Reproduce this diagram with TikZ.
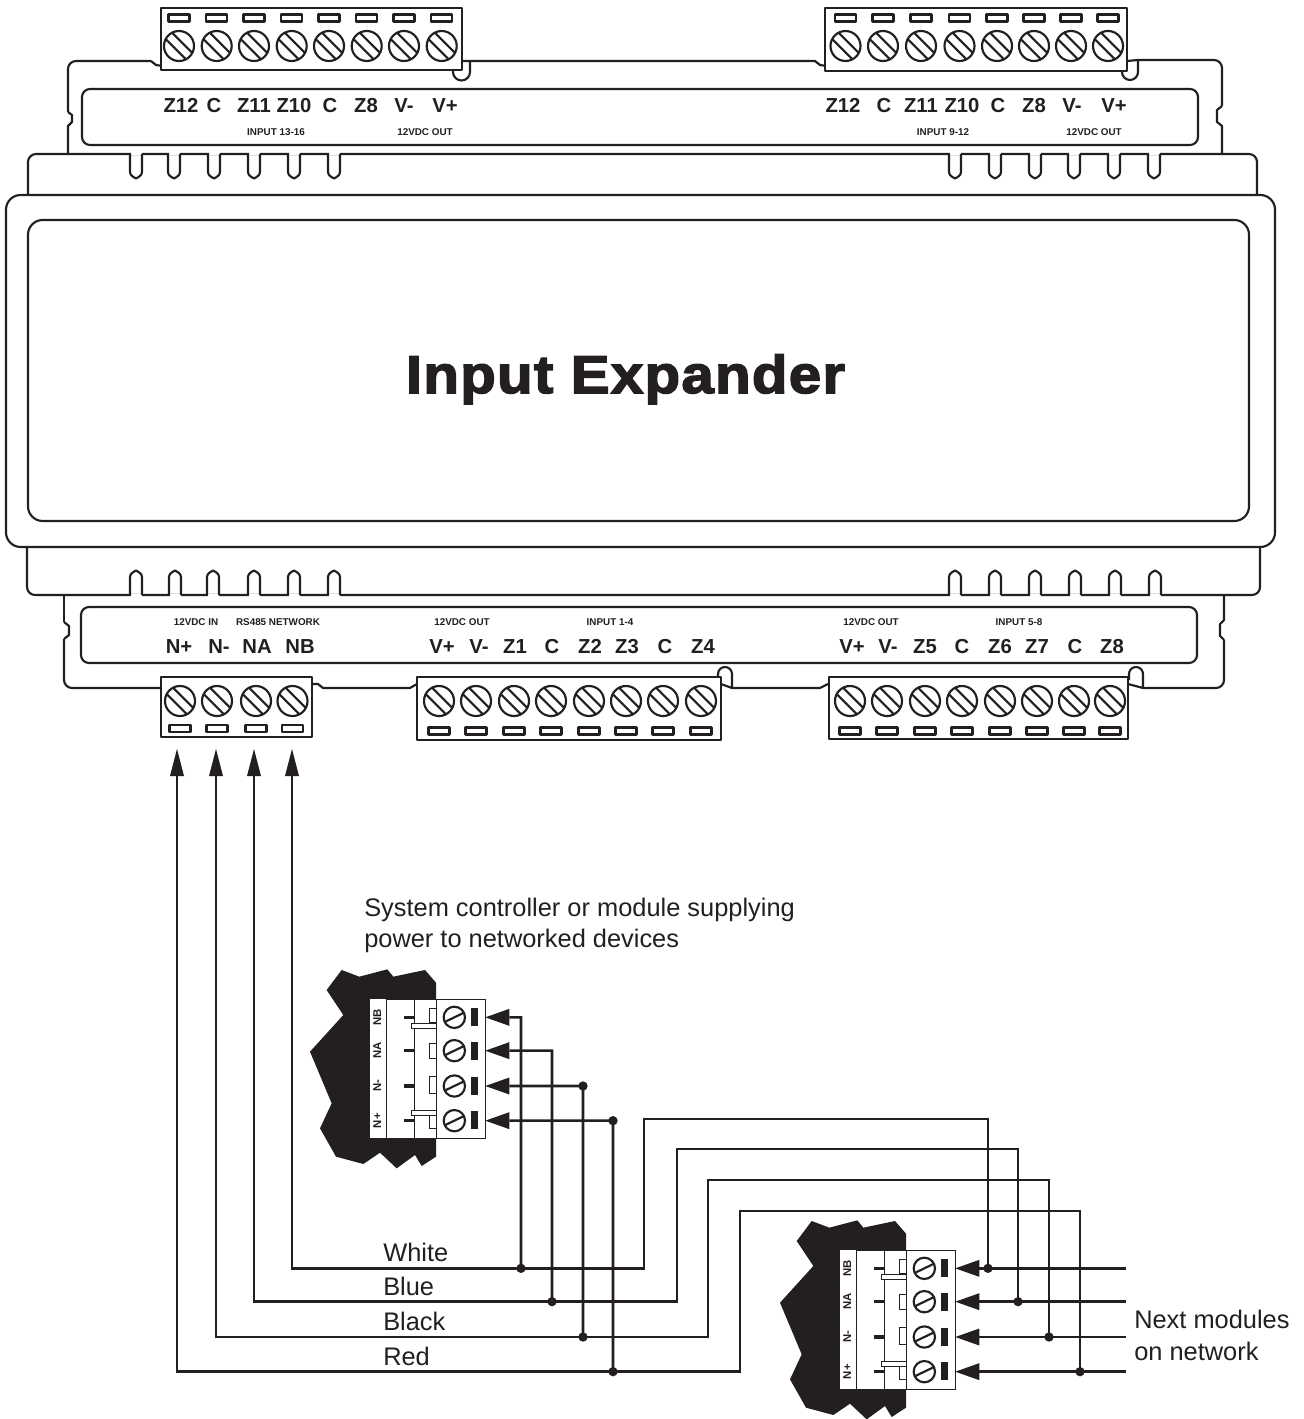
\documentclass[tikz,border=0pt]{standalone}
\usepackage{fontspec}
\setmainfont{Liberation Sans}
\newfontfamily\headfont[UprightFont=* Bold,FakeBold=2.8,FakeStretch=1.09,LetterSpace=2.5]{Liberation Sans}
\definecolor{ink}{HTML}{231F20}
\newcommand{\pxfont}[1]{\fontsize{#1}{#1}\selectfont}
\tikzset{
  outline/.style={draw=ink,line width=1.6pt,line join=round},
  thin/.style={draw=ink,line width=0.75pt},
  wire/.style={draw=ink,line width=1.9pt,line join=miter},
  termlab/.style={inner sep=0,anchor=base,text=ink,font=\bfseries\pxfont{15.2}},
  smalllab/.style={inner sep=0,anchor=base,text=ink,font=\bfseries\pxfont{7.4}},
  textlab/.style={inner sep=0,anchor=base west,text=ink,font=\pxfont{19.05}},
  pinlab/.style={inner sep=0,rotate=90,text=ink,font=\bfseries\pxfont{8.5}},
  dot/.style={circle,fill=ink,inner sep=0,minimum size=7pt},
}
% screw: centre x, y
\newcommand{\screw}[2]{%
  \draw[outline,fill=white] (#1,#2) circle[radius=15];
  \draw[outline] (#1-6.9,#2-13.3) -- (#1+13.3,#2+6.9);
  \draw[outline] (#1-13.3,#2-6.9) -- (#1+6.9,#2+13.3);
}
\newcommand{\slotbox}[2]{\draw[outline,fill=white] (#1-10.5,#2-3.5) rectangle (#1+10.5,#2+3.5);}
% fins: x, base y, tip y, direction
\newcommand{\finrow}[3]{%
  \fill[white] (#1-5.5,#2-1.5) rectangle (#1+5.5,#2+1.5);
  \draw[outline] (#1-6,#2) -- (#1-6,#3) .. controls (#1-6,{#3+(#3-#2)*0.2}) and (#1-2,{#3+(#3-#2)*0.3}) .. (#1,{#3+(#3-#2)*0.36})
     .. controls (#1+2,{#3+(#3-#2)*0.3}) and (#1+6,{#3+(#3-#2)*0.2}) .. (#1+6,#3) -- (#1+6,#2);
}
% plug connector drawn in zoom coordinates (3 units per pixel)
\newcommand{\plug}[3]{%
\begin{scope}[shift={(#2,#3)},xscale=1/3,yscale=1/3]
  \fill[ink] (125,30) -- (178,50) -- (262,28) -- (280,50) -- (375,30) -- (408,68) -- (408,590) -- (365,618) -- (345,585)
     -- (290,625) -- (240,578) -- (190,612) -- (108,590) -- (60,505) -- (95,430) -- (30,275) -- (130,165) -- (80,90) -- cycle;
  \fill[white] (210,117) rectangle (258,535);
  \draw[thin,fill=white] (258,117) rectangle (556,535);
  \draw[thin] (343,117) -- (343,535);
  \draw[thin] (408,117) -- (408,190) (408,205) -- (408,450) (408,465) -- (408,535);
  \draw[thin,fill=white] (335,190) rectangle (408,205);
  \draw[thin,fill=white] (335,450) rectangle (408,465);
  \draw[thin,fill=white] (388,145) rectangle (408,187);
  \draw[thin,fill=white] (388,250) rectangle (408,295);
  \draw[thin,fill=white] (388,350) rectangle (408,400);
  \draw[thin,fill=white] (388,465) rectangle (408,505);
  \foreach \r/\t/\p in {172/NB/145,272/NA/245,378/N-/350,482/N+/452}{
    \fill[ink] (312,\r-5) rectangle (343,\r+5);
    \draw[outline] (463,\r) circle[radius=32];
    \draw[outline] (436,\r+13) -- (490,\r-13);
    \fill[ink] (513,\p) rectangle (533,\p+54);
    \node[pinlab] (#1\t) at (232,\r) {\t};
  }
  \coordinate (#1a) at (556,172);
  \coordinate (#1b) at (556,272);
  \coordinate (#1c) at (556,378);
  \coordinate (#1d) at (556,482);
\end{scope}}
\begin{document}
\begin{tikzpicture}[x=0.75pt,y=-0.75pt]
\useasboundingbox (0,0) rectangle (1303,1419);
\fill[white] (0,0) rectangle (1303,1419);

% upper housing
\draw[outline] (68,154) -- (68,126) -- (72,122) -- (72,115) -- (68,112);
\draw[outline,rounded corners=6pt] (68,112) -- (68,61) -- (151,61);
\draw[outline] (151,61) -- (156,65) -- (162,66);
\draw[outline] (462,61) -- (815,61) -- (820,65) -- (826,66);
\draw[outline] (1127,61) -- (1138,60);
\draw[outline,rounded corners=6pt] (1138,60) -- (1222,60) -- (1222,106);
\draw[outline] (1222,106) -- (1217,110) -- (1217,122) -- (1222,126) -- (1222,154);
\draw[outline] (470,61) -- (470,72) arc[start angle=0,end angle=180,radius=8.5] -- (453,69);
\draw[outline] (1138,60) -- (1138,72) arc[start angle=0,end angle=180,radius=8] -- (1122,69);
\draw[outline,rounded corners=6pt] (82,145) rectangle (1198,89);
\draw[outline,rounded corners=6pt] (28,195) -- (28,154) -- (1257,154) -- (1257,195);
\foreach \x in {136,174,214,254,294,334,955,995,1035,1074,1114,1154}{\finrow{\x}{154}{172}}

% lower housing
\draw[outline,rounded corners=6pt] (64,595) -- (64,622);
\draw[outline] (64,622) -- (69,626) -- (69,635) -- (64,639);
\draw[outline,rounded corners=6pt] (64,639) -- (64,688) -- (161,688);
\draw[outline] (312,684) -- (318,684) -- (323,688) -- (410,688) -- (417,684);
\draw[outline] (732,688) -- (820,688) -- (828,684);
\draw[outline,rounded corners=6pt] (1143,688) -- (1224,688) -- (1224,640);
\draw[outline] (1224,640) -- (1220,636) -- (1220,624) -- (1224,620) -- (1224,595);
\draw[outline] (718,680) -- (718,674) arc[start angle=180,end angle=360,radius=7] -- (732,688) -- (721,684);
\draw[outline] (1129,680) -- (1129,674) arc[start angle=180,end angle=360,radius=7] -- (1143,688) -- (1128,684);
\draw[outline,rounded corners=6pt] (81,663) rectangle (1197,607);
\draw[outline,rounded corners=6pt] (27,547) -- (27,595) -- (1260,595) -- (1260,547);
\foreach \x in {136,175,213,254,294,334,955,995,1035,1075,1115,1155}{\finrow{\x}{595}{577}}

% main body
\draw[outline,fill=white,rounded corners=11pt] (6,195) rectangle (1275,547);
\draw[outline,rounded corners=11pt] (28,220) rectangle (1249,521);
\node[inner sep=0,anchor=base,text=ink,font=\headfont\pxfont{40}] (title) at (625.5,393) {Input Expander};

% terminal blocks
\draw[outline,fill=white] (161,8) rectangle (462,70);
\draw[outline,fill=white] (825,8) rectangle (1127,71);
\draw[outline,fill=white] (161,677) rectangle (312,737);
\draw[outline,fill=white] (417,677) rectangle (721,740);
\draw[outline,fill=white] (829,677) rectangle (1128,739);
\foreach \x in {179,216.7,254,291.7,329,366.7,404,441.7}{\screw{\x}{46}\slotbox{\x}{18}}
\foreach \x in {845.5,883,921,959.5,997,1034,1071,1108}{\screw{\x}{46}\slotbox{\x}{18}}
\foreach \x in {180,217,256,292.5}{\screw{\x}{701}\slotbox{\x}{728.5}}
\foreach \x in {439,476,514,551,589,626,663,701}{\screw{\x}{701}\slotbox{\x}{731}}
\foreach \x in {850,887,925,962,1000,1037,1074,1110}{\screw{\x}{701}\slotbox{\x}{731}}

% terminal labels
\foreach \i/\x/\t in {1/181/Z12,2/214/C,3/254/Z11,4/294/Z10,5/330/C,6/366/Z8,7/404/V-,8/445/V+,
  9/843/Z12,10/884/C,11/921/Z11,12/962/Z10,13/998/C,14/1034/Z8,15/1072/V-,16/1114/V+}{
  \node[termlab] (top\i) at (\x,112.5) {\t};}
\foreach \i/\x/\t in {1/179/N+,2/219/N-,3/257/NA,4/300/NB,5/442/V+,6/479/V-,7/515/Z1,8/552/C,9/590/Z2,10/627/Z3,11/665/C,12/703/Z4,
  13/852/V+,14/888/V-,15/925/Z5,16/962/C,17/1000/Z6,18/1037/Z7,19/1075/C,20/1112/Z8}{
  \node[termlab] (bot\i) at (\x,653) {\t};}
\foreach \i/\x/\t in {1/276/INPUT 13-16,2/425/12VDC OUT,3/943/INPUT 9-12,4/1094/12VDC OUT}{
  \node[smalllab] (stop\i) at (\x,136) {\t};}
\foreach \i/\x/\t in {1/196/12VDC IN,2/278/RS485 NETWORK,3/462/12VDC OUT,4/610/INPUT 1-4,5/871/12VDC OUT,6/1019/INPUT 5-8}{
  \node[smalllab] (sbot\i) at (\x,625) {\t};}

% plugs
\plug{p}{300}{960}
\plug{q}{770}{1211}

% text
\node[textlab] (ctrlA) at (364,916) {System controller or module supplying};
\node[textlab] (ctrlB) at (364,947) {power to networked devices};
\node[textlab] (white) at (383,1261) {White};
\node[textlab] (blue) at (383,1295) {Blue};
\node[textlab] (black) at (383,1330) {Black};
\node[textlab] (red) at (383,1365) {Red};
\node[textlab] (nextA) at (1134,1328) {Next modules};
\node[textlab] (nextB) at (1134,1360) {on network};

% named wire points
\foreach \n/\x in {ua/292,ub/254,uc/216,ud/177}{\coordinate (\n) at (\x,749);}
\coordinate (ea) at ([xshift=128pt]qa);
\coordinate (eb) at ([xshift=128pt]qb);
\coordinate (ec) at ([xshift=128pt]qc);
\coordinate (ed) at ([xshift=128pt]qd);
\node[dot] (j1) at (521,1268.33) {};
\node[dot] (j2) at (552,1301.67) {};
\node[dot] (j3) at (583,1337) {};
\node[dot] (j4) at (613,1371.67) {};
\node[dot] (j5) at (583,1086) {};
\node[dot] (j6) at (613,1120.67) {};
\node[dot] (k1) at (988,1268.33) {};
\node[dot] (k2) at (1018,1301.67) {};
\node[dot] (k3) at (1049,1337) {};
\node[dot] (k4) at (1080,1371.67) {};

% wires to the expander
\draw[wire] (ua) ++(0,20) |- (j1.center) -- (644,1268.33) -- (644,1119) -- (988,1119) -- (k1.center);
\draw[wire] (ub) ++(0,20) |- (j2.center) -- (677,1301.67) -- (677,1149) -- (1018,1149) -- (k2.center);
\draw[wire] (uc) ++(0,20) |- (j3.center) -- (708,1337) -- (708,1180) -- (1049,1180) -- (k3.center);
\draw[wire] (ud) ++(0,20) |- (j4.center) -- (740,1371.67) -- (740,1211) -- (1080,1211) -- (k4.center);
% branches to the controller
\draw[wire] (j1.center) -- (521,1017.33) -- ([xshift=18pt]pa);
\draw[wire] (j2.center) -- (552,1050.67) -- ([xshift=18pt]pb);
\draw[wire] (j3.center) -- (j5.center) -- ([xshift=18pt]pc);
\draw[wire] (j4.center) -- (j6.center) -- ([xshift=18pt]pd);
% bus to next modules
\draw[wire] (ea) -- ([xshift=18pt]qa);
\draw[wire] (eb) -- ([xshift=18pt]qb);
\draw[wire] (ec) -- ([xshift=18pt]qc);
\draw[wire] (ed) -- ([xshift=18pt]qd);
% arrowheads
\foreach \n in {ua,ub,uc,ud}{\fill[ink] (\n) -- ++(7,27) -- ++(-14,0) -- cycle;}
\foreach \n in {pa,pb,pc,pd,qa,qb,qc,qd}{\fill[ink] (\n) -- ++(24,-8.5) -- ++(0,17) -- cycle;}
\end{tikzpicture}
\end{document}
